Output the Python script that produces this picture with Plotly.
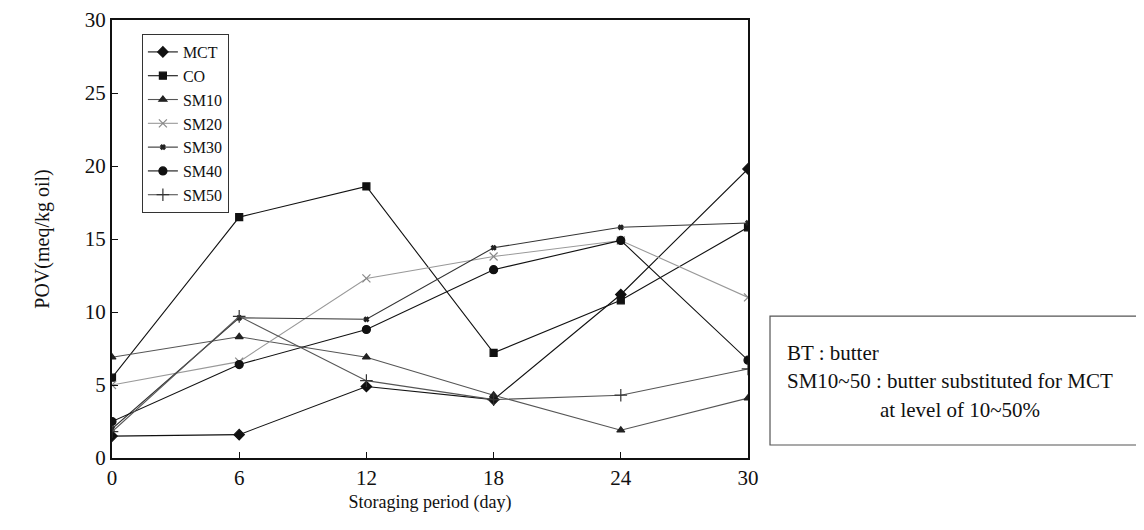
import plotly.graph_objects as go

days = [0, 6, 12, 18, 24, 30]
series_names = ["MCT", "CO", "SM10", "SM20", "SM30", "SM40", "SM50"]
mct = [1.5, 1.6, 4.9, 4.0, 11.2, 19.8]
co = [5.5, 16.5, 18.6, 7.2, 10.8, 15.8]
sm10 = [6.9, 8.3, 6.9, 4.3, 1.9, 4.1]
sm20 = [5.0, 6.6, 12.3, 13.8, 14.9, 11.0]
sm30 = [2.0, 9.6, 9.5, 14.4, 15.8, 16.1]
sm40 = [2.5, 6.4, 8.8, 12.9, 14.9, 6.7]
sm50 = [1.8, 9.7, 5.3, 4.0, 4.3, 6.1]
y_ticks = [0, 5, 10, 15, 20, 25, 30]
x_ticks = [0, 6, 12, 18, 24, 30]

values = [mct, co, sm10, sm20, sm30, sm40, sm50]
styles = [
    dict(symbol="diamond", size=8, color="#111111", lc="#111111"),
    dict(symbol="square", size=7, color="#111111", lc="#111111"),
    dict(symbol="triangle-up", size=7, color="#222222", lc="#555555"),
    dict(symbol="x-thin-open", size=8, color="#888888", lc="#999999"),
    dict(symbol="x", size=4, color="#222222", lc="#333333"),
    dict(symbol="circle", size=8, color="#111111", lc="#111111"),
    dict(symbol="cross-thin-open", size=9, color="#333333", lc="#555555"),
]

FONT = "Liberation Serif"
fig = go.Figure()
for name, vals, st in zip(series_names, values, styles):
    fig.add_trace(go.Scatter(
        x=days, y=vals, name=name, mode="lines+markers",
        line=dict(color=st["lc"], width=1.1),
        marker=dict(symbol=st["symbol"], size=st["size"], color=st["color"],
                    line=dict(color=st["color"], width=1.2)),
    ))

fig.update_layout(
    width=1144, height=530,
    margin=dict(l=104, r=404, t=12, b=80, autoexpand=False),
    paper_bgcolor="white", plot_bgcolor="white",
    font=dict(family=FONT, color="#111111", size=20),
    showlegend=True,
    legend=dict(
        x=0.047, y=0.968, xanchor="left", yanchor="top",
        bordercolor="#333333", borderwidth=1, bgcolor="white",
        font=dict(family=FONT, size=16, color="#111111"),
        itemwidth=30, tracegroupgap=0,
    ),
    xaxis=dict(
        range=[0, 30], tickvals=x_ticks, ticktext=[str(v) for v in x_ticks],
        showgrid=False, zeroline=False, showline=True, linecolor="#111111",
        linewidth=2, mirror=True, ticks="inside", ticklen=6, tickcolor="#111111",
        tickfont=dict(family=FONT, size=21), automargin=False,
        title=dict(text="Storaging period (day)", font=dict(family=FONT, size=18), standoff=6),
    ),
    yaxis=dict(
        range=[0, 30], tickvals=y_ticks, ticktext=[str(v) for v in y_ticks],
        showgrid=False, zeroline=False, showline=True, linecolor="#111111",
        linewidth=2, mirror=True, ticks="inside", ticklen=6, tickcolor="#111111",
        tickfont=dict(family=FONT, size=21), automargin=False,
        title=dict(text="POV(meq/kg oil)", font=dict(family=FONT, size=20), standoff=30),
    ),
)

fig.add_shape(type="rect", xref="paper", yref="paper",
              x0=1.0346, x1=1.65, y0=0.0297, y1=0.324,
              line=dict(color="#555555", width=1.2), fillcolor="rgba(0,0,0,0)")
fig.add_annotation(xref="paper", yref="paper", x=1.058, y=0.2397,
                   xanchor="left", yanchor="middle", showarrow=False,
                   text="BT : butter", font=dict(family=FONT, size=21))
fig.add_annotation(xref="paper", yref="paper", x=1.058, y=0.176,
                   xanchor="left", yanchor="middle", showarrow=False,
                   text="SM10~50 : butter substituted for MCT", font=dict(family=FONT, size=21))
fig.add_annotation(xref="paper", yref="paper", x=1.205, y=0.110,
                   xanchor="left", yanchor="middle", showarrow=False,
                   text="at level of 10~50%", font=dict(family=FONT, size=21))

fig.write_html("out.html")
